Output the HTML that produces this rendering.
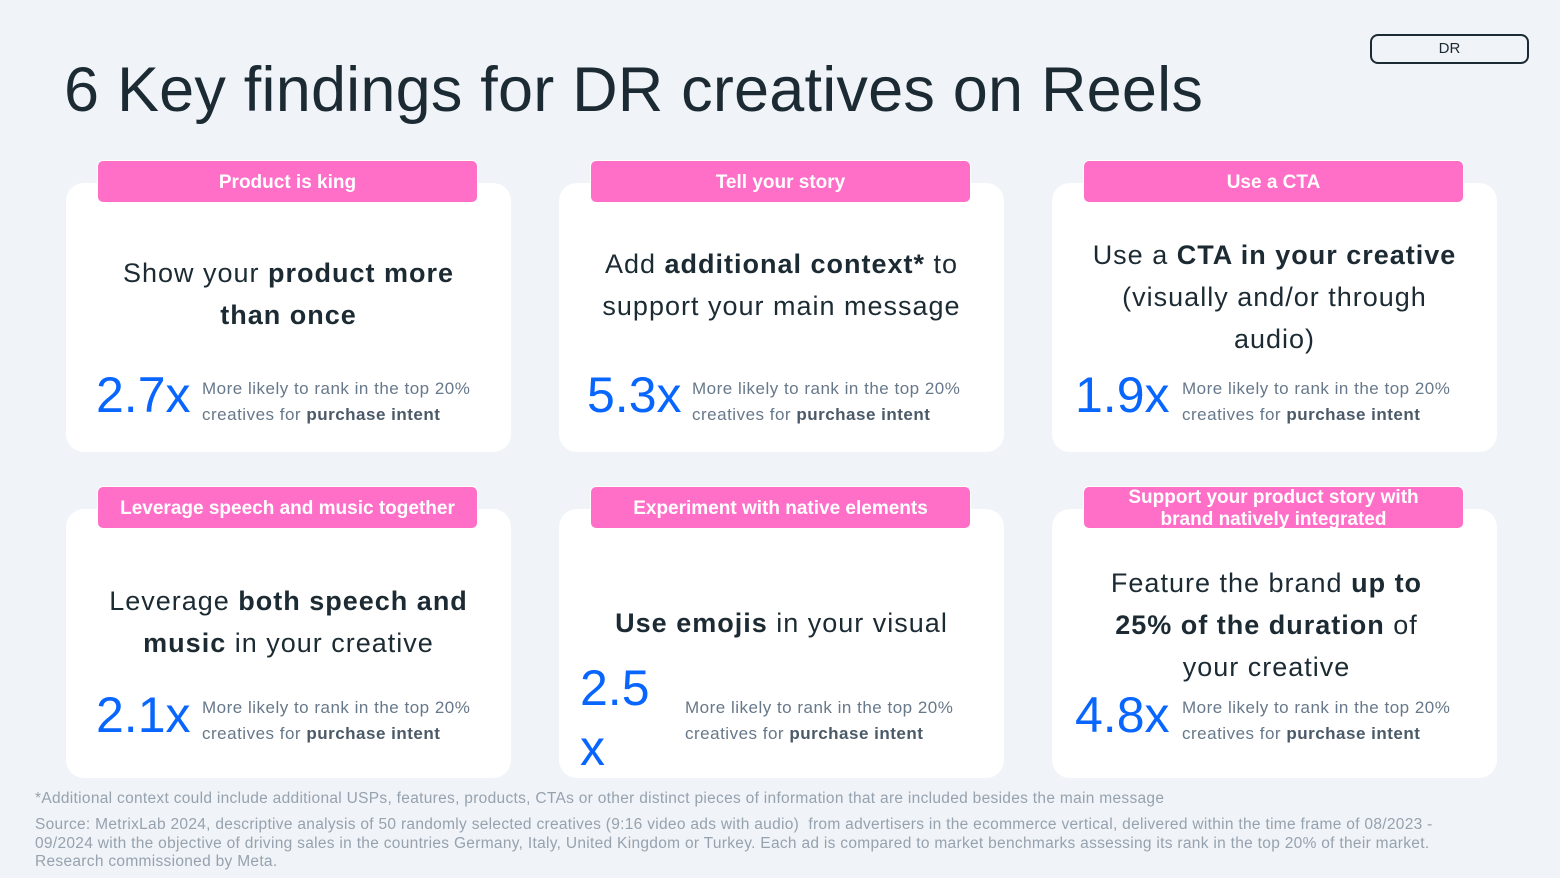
<!DOCTYPE html>
<html><head><meta charset="utf-8"><style>
*{margin:0;padding:0;box-sizing:border-box}
body{width:1560px;height:878px;background:#f0f3f7;font-family:"Liberation Sans",sans-serif;position:relative;overflow:hidden;color:#1c2b33}
.a{position:absolute}
.card{position:absolute;background:#fff;border-radius:18px;width:445px;height:269px}
.tab{position:absolute;background:#ff6fc8;border-radius:6px;width:381px;height:43px;color:#fff;font-weight:bold;font-size:19px;text-align:center;line-height:43px;border:1px solid #fff}
.h{position:absolute;width:445px;text-align:center;font-size:27px;line-height:42px;color:#1c2b33;letter-spacing:1px}
.h b{font-weight:bold}
.st{position:absolute;font-size:50px;color:#0866ff;line-height:50px}
.sm{position:absolute;font-size:17px;line-height:26px;color:#67788a;white-space:nowrap;letter-spacing:0.5px}
.sm b{color:#4b5a68}
.fn{position:absolute;left:35px;font-size:15.5px;color:#96a2ae;line-height:18.5px;letter-spacing:0.3px}
</style></head><body>
<div class="a" style="left:1370px;top:34px;width:159px;height:30px;border:2px solid #1c2b33;border-radius:8px;text-align:center;font-size:15px;line-height:26px">DR</div>
<div class="a" style="left:64px;top:52px;font-size:63px;line-height:76px;color:#1c2b33;letter-spacing:0.2px">6 Key findings for DR creatives on Reels</div>

<div class="card" style="left:66px;top:183px"></div>
<div class="card" style="left:559px;top:183px"></div>
<div class="card" style="left:1052px;top:183px"></div>
<div class="card" style="left:66px;top:509px"></div>
<div class="card" style="left:559px;top:509px"></div>
<div class="card" style="left:1052px;top:509px"></div>

<div class="tab" style="left:97px;top:160px">Product is king</div>
<div class="tab" style="left:590px;top:160px">Tell your story</div>
<div class="tab" style="left:1083px;top:160px">Use a CTA</div>
<div class="tab" style="left:97px;top:486px">Leverage speech and music together</div>
<div class="tab" style="left:590px;top:486px">Experiment with native elements</div>
<div class="tab" style="left:1083px;top:486px;line-height:22px;padding-top:0">Support your product story with<br>brand natively integrated</div>

<div class="h" style="left:66px;top:252px">Show your <b>product more<br>than once</b></div>
<div class="h" style="left:559px;top:243px">Add <b>additional context*</b> to<br>support your main message</div>
<div class="h" style="left:1052px;top:234px">Use a <b>CTA in your creative</b><br>(visually and/or through<br>audio)</div>
<div class="h" style="left:66px;top:580px">Leverage <b>both speech and<br>music</b> in your creative</div>
<div class="h" style="left:559px;top:602px"><b>Use emojis</b> in your visual</div>
<div class="h" style="left:1044px;top:562px">Feature the brand <b>up to<br>25% of the duration</b> of<br>your creative</div>

<div class="st" style="left:96px;top:370px">2.7x</div>
<div class="st" style="left:587px;top:370px">5.3x</div>
<div class="st" style="left:1075px;top:370px">1.9x</div>
<div class="st" style="left:96px;top:690px">2.1x</div>
<div class="st" style="left:580px;top:658px;line-height:60px">2.5<br>x</div>
<div class="st" style="left:1075px;top:690px">4.8x</div>

<div class="sm" style="left:202px;top:376px">More likely to rank in the top 20%<br>creatives for <b>purchase intent</b></div>
<div class="sm" style="left:692px;top:376px">More likely to rank in the top 20%<br>creatives for <b>purchase intent</b></div>
<div class="sm" style="left:1182px;top:376px">More likely to rank in the top 20%<br>creatives for <b>purchase intent</b></div>
<div class="sm" style="left:202px;top:695px">More likely to rank in the top 20%<br>creatives for <b>purchase intent</b></div>
<div class="sm" style="left:685px;top:695px">More likely to rank in the top 20%<br>creatives for <b>purchase intent</b></div>
<div class="sm" style="left:1182px;top:695px">More likely to rank in the top 20%<br>creatives for <b>purchase intent</b></div>

<div class="fn" style="top:790px">*Additional context could include additional USPs, features, products, CTAs or other distinct pieces of information that are included besides the main message</div>
<div class="fn" style="top:816px;width:1440px">Source: MetrixLab 2024, descriptive analysis of 50 randomly selected creatives (9:16 video ads with audio)&nbsp; from advertisers in the ecommerce vertical, delivered within the time frame of 08/2023 -<br>09/2024 with the objective of driving sales in the countries Germany, Italy, United Kingdom or Turkey. Each ad is compared to market benchmarks assessing its rank in the top 20% of their market.<br>Research commissioned by Meta.</div>
</body></html>
